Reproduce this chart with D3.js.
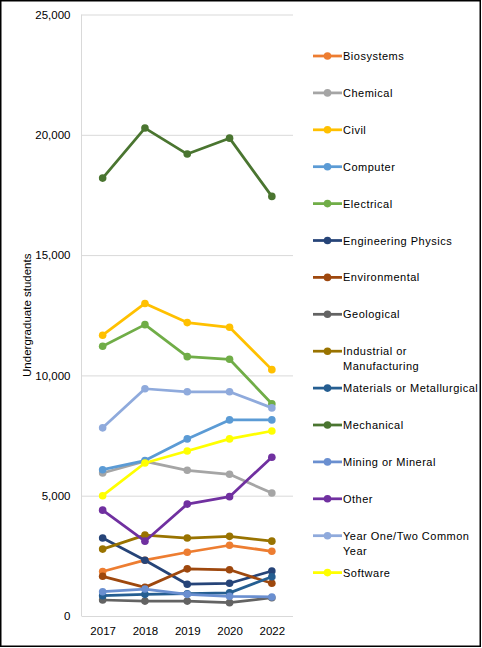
<!DOCTYPE html>
<html>
<head>
<meta charset="utf-8">
<script src="https://cdn.jsdelivr.net/npm/d3@7"></script>
<style>
  body { margin: 0; background: #fff; }
  text { font-family: "Liberation Sans", Arial, sans-serif; }
</style>
</head>
<body>
<div id="chart"></div>
<script>
// Data
const years = ["2017", "2018", "2019", "2020", "2022"];

const seriesNames = [
  "Biosystems", "Chemical", "Civil", "Computer", "Electrical",
  "Engineering Physics", "Environmental", "Geological",
  "Industrial or Manufacturing", "Materials or Metallurgical",
  "Mechanical", "Mining or Mineral", "Other",
  "Year One/Two Common Year", "Software"
];

const biosystems   = [1850, 2320, 2650, 2940, 2690];
const chemical     = [5945, 6430, 6055, 5890, 5110];
const civil        = [11670, 12990, 12195, 12000, 10240];
const computer     = [6080, 6460, 7360, 8150, 8150];
const electrical   = [11210, 12110, 10780, 10670, 8820];
const engPhysics   = [3240, 2320, 1320, 1360, 1870];
const environmental = [1650, 1190, 1960, 1920, 1360];
const geological   = [665, 620, 620, 555, 760];
const industrial   = [2780, 3360, 3240, 3310, 3110];
const materials    = [845, 900, 925, 960, 1630];
const mechanical   = [18200, 20280, 19200, 19860, 17440];
const mining       = [1010, 1120, 900, 820, 790];
const other        = [4400, 3110, 4650, 4960, 6600];
const commonYear   = [7820, 9445, 9320, 9320, 8650];
const software     = [5000, 6360, 6860, 7360, 7690];

const yTicks = [0, 5000, 10000, 15000, 20000, 25000];

const allValues = [biosystems, chemical, civil, computer, electrical, engPhysics,
  environmental, geological, industrial, materials, mechanical, mining, other,
  commonYear, software];

const colors = ["#ED7D31", "#A5A5A5", "#FFC000", "#5B9BD5", "#70AD47",
  "#264478", "#9E480E", "#636363", "#997300", "#255E91",
  "#4A7530", "#6A8FD0", "#7030A0", "#8FAADC", "#FFFF00"];

// legend labels as they wrap in the picture
const legendLines = [
  ["Biosystems"], ["Chemical"], ["Civil"], ["Computer"], ["Electrical"],
  ["Engineering Physics"], ["Environmental"], ["Geological"],
  ["Industrial or", "Manufacturing"], ["Materials or Metallurgical"],
  ["Mechanical"], ["Mining or Mineral"], ["Other"],
  ["Year One/Two Common", "Year"], ["Software"]
];

const width = 482, height = 648;

const svg = d3.select("#chart").append("svg")
  .attr("width", width)
  .attr("height", height);

// outer frame, legend text gets clipped by it
svg.append("clipPath").attr("id", "frameClip")
  .append("rect").attr("x", 0).attr("y", 0).attr("width", 480).attr("height", 646);

svg.append("rect")
  .attr("x", 0).attr("y", 0)
  .attr("width", width).attr("height", height)
  .attr("fill", "#fff");

let plot = { left: 81.5, right: 293, top: 14.5, bottom: 616 };

let xScale = d3.scalePoint()
  .domain(years)
  .range([plot.left, plot.right])
  .padding(0.5);

let yScale = d3.scaleLinear()
  .domain([0, 25000])
  .range([plot.bottom, plot.top]);

// gridlines
let yAxis = d3.axisLeft(yScale)
  .tickValues(yTicks)
  .tickSize(-(plot.right - plot.left))
  .tickPadding(11)
  .tickFormat(d3.format(","));

let yAxisG = svg.append("g")
  .attr("transform", `translate(${plot.left}, 0)`)
  .call(yAxis);
yAxisG.select(".domain").remove();
yAxisG.selectAll(".tick line").attr("stroke", "#D9D9D9").attr("stroke-width", 1);
yAxisG.selectAll(".tick text")
  .attr("font-size", "11.5px")
  .attr("fill", "#000");

// vertical axis line
svg.append("line")
  .attr("x1", plot.left).attr("x2", plot.left)
  .attr("y1", plot.top).attr("y2", plot.bottom)
  .attr("stroke", "#D9D9D9");

let xAxis = d3.axisBottom(xScale).tickSize(0).tickPadding(11);
let xAxisG = svg.append("g")
  .attr("transform", `translate(0, ${plot.bottom})`)
  .call(xAxis);
xAxisG.select(".domain").remove();
xAxisG.selectAll(".tick text")
  .attr("font-size", "11.5px")
  .attr("fill", "#000");

svg.append("text")
  .attr("transform", `translate(31, ${(plot.top + plot.bottom) / 2}) rotate(-90)`)
  .attr("text-anchor", "middle")
  .attr("font-size", "11.5px")
  .attr("fill", "#000")
  .text("Undergraduate students");

// lines + markers
let line = d3.line()
  .x((d, i) => xScale(years[i]))
  .y(d => yScale(d));

let seriesG = svg.append("g").selectAll("g")
  .data(allValues)
  .enter()
  .append("g");

seriesG.append("path")
  .attr("d", d => line(d))
  .attr("fill", "none")
  .attr("stroke", (d, i) => colors[i])
  .attr("stroke-width", 2.75)
  .attr("stroke-linejoin", "round");

seriesG.each(function(vals, si) {
  d3.select(this).selectAll("circle")
    .data(vals)
    .enter()
    .append("circle")
    .attr("cx", (d, i) => xScale(years[i]))
    .attr("cy", d => yScale(d))
    .attr("r", 3.8)
    .attr("fill", colors[si]);
});

// legend
let legend = svg.append("g").attr("clip-path", "url(#frameClip)");
let legendTop = 56, legendStep = 36.9;

seriesNames.forEach(function(name, i) {
  let y = legendTop + i * legendStep;
  let g = legend.append("g").attr("transform", `translate(313, ${y})`);
  g.append("line")
    .attr("x1", 0).attr("x2", 29)
    .attr("stroke", colors[i])
    .attr("stroke-width", 2.75);
  g.append("circle")
    .attr("cx", 14.5).attr("r", 3.8)
    .attr("fill", colors[i]);
  let t = g.append("text")
    .attr("x", 30)
    .attr("y", 4)
    .attr("font-size", "11px")
    .attr("letter-spacing", "0.5px")
    .attr("fill", "#000");
  legendLines[i].forEach(function(part, j) {
    t.append("tspan").attr("x", 30).attr("dy", j === 0 ? 0 : 15).text(part);
  });
});

svg.append("rect")
  .attr("x", 0.75).attr("y", 0.75)
  .attr("width", 479.5).attr("height", 645.5)
  .attr("fill", "none")
  .attr("stroke", "#000")
  .attr("stroke-width", 1.5);
</script>
</body>
</html>
